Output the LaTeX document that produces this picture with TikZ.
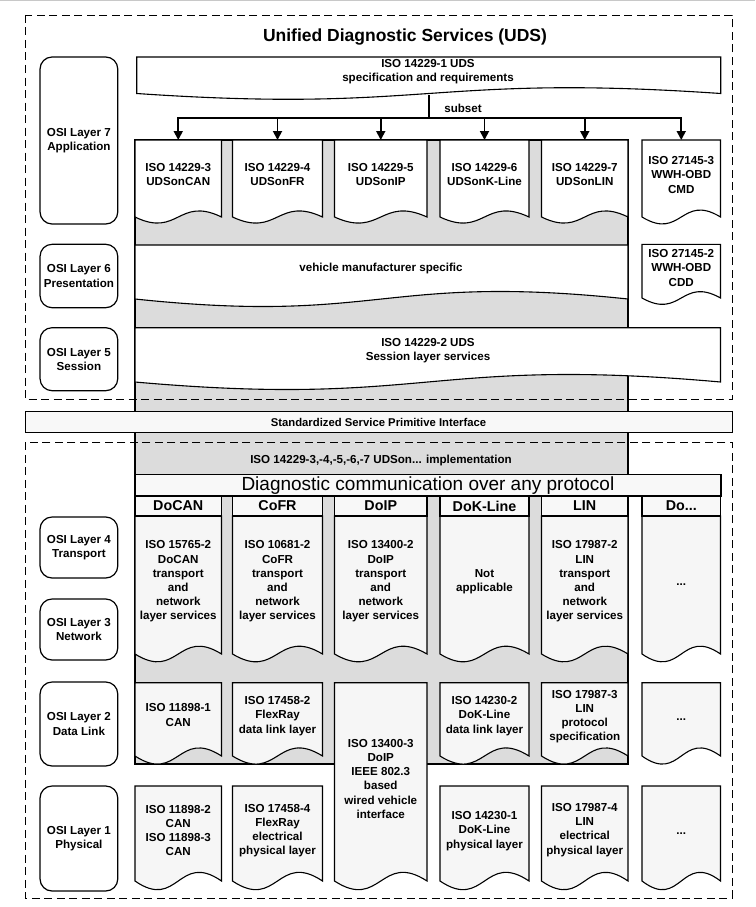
\documentclass[tikz,border=0pt]{standalone}
\usepackage{fontspec}
\setmainfont{Liberation Sans}
\usetikzlibrary{arrows.meta}
\definecolor{bggray}{RGB}{220,220,220}
\definecolor{lightbox}{RGB}{246,246,246}
\definecolor{barfill}{RGB}{248,248,248}
\definecolor{edgegray}{RGB}{200,200,200}
% document shape: x0, ytop, x1, ybottom, wave control offset, style
\newcommand\docshape[6]{\draw[#6] (#1,#2) -- (#3,#2) -- (#3,#4) .. controls ({(#1+#3)/2},{#4-#5}) and ({(#1+#3)/2},{#4+#5}) .. (#1,#4) -- cycle;}
\begin{document}
\begin{tikzpicture}[x=1pt,y=-1pt,
  every node/.style={font=\fontsize{11.6}{14.2}\selectfont\bfseries, align=center, inner sep=0pt},
  osi/.style={draw, line width=1.2pt, rounded corners=12pt, fill=white},
  docw/.style={draw, line width=1.1pt, fill=white},
  docl/.style={draw, line width=1.1pt, fill=lightbox},
  grayarea/.style={draw, line width=2pt, fill=bggray},
  dashbox/.style={line width=0.9pt, dash pattern=on 8pt off 4.5pt},
  hdr/.style={draw, line width=1.5pt, fill=barfill, minimum height=20pt, font=\fontsize{14.3}{16}\selectfont\bfseries},
  arr/.style={line width=1.8pt, -{Triangle[length=9pt,width=9pt]}}
]
\useasboundingbox (0,0) rectangle (755,907);
\draw[edgegray, line width=1.4pt] (0,0.7) -- (755,0.7);

% gray backdrop
\draw[grayarea] (135,140) rectangle (628,764);

% dashed frames
\draw[dashbox] (25,15) rectangle (732,399);
\draw[dashbox] (25,442.3) rectangle (732,898);

% title
\node[font=\fontsize{17.5}{20}\selectfont\bfseries] (title) at (405,37) {Unified Diagnostic Services (UDS)};

% OSI layer labels
\node[osi, minimum width=77.7pt, minimum height=167pt] (o7) at (78.9,140.5) {OSI Layer 7\\Application};
\node[osi, minimum width=77.7pt, minimum height=63.4pt] (o6) at (78.9,276) {OSI Layer 6\\Presentation};
\node[osi, minimum width=77.7pt, minimum height=63pt] (o5) at (78.9,359.2) {OSI Layer 5\\Session};
\node[osi, minimum width=77.7pt, minimum height=61pt] (o4) at (78.9,547.5) {OSI Layer 4\\Transport};
\node[osi, minimum width=77.7pt, minimum height=61pt] (o3) at (78.9,629.5) {OSI Layer 3\\Network};
\node[osi, minimum width=77.7pt, minimum height=84pt] (o2) at (78.9,724) {OSI Layer 2\\Data Link};
\node[osi, minimum width=77.7pt, minimum height=105pt] (o1) at (78.9,838.5) {OSI Layer 1\\Physical};

% layer 7 boxes
\docshape{135}{140}{221.5}{217}{21}{docw}
\docshape{232.5}{140}{322.5}{217}{21}{docw}
\docshape{334.5}{140}{427}{217}{21}{docw}
\docshape{440}{140}{529}{217}{21}{docw}
\docshape{541.5}{140}{628}{217}{21}{docw}
\docshape{642}{140}{720.5}{217}{24}{docw}
\node (u3) at (178.25,174.5) {ISO 14229-3\\UDSonCAN};
\node (u4) at (277.5,174.5) {ISO 14229-4\\UDSonFR};
\node (u5) at (380.75,174.5) {ISO 14229-5\\UDSonIP};
\node (u6) at (484.5,174.5) {ISO 14229-6\\UDSonK-Line};
\node (u7) at (584.75,174.5) {ISO 14229-7\\UDSonLIN};
\node (wcmd) at (681.25,175) {ISO 27145-3\\WWH-OBD\\CMD};

% layer 6
\docshape{135}{245}{628}{299}{26}{docw}
\node (vms) at (381,268) {vehicle manufacturer specific};
\docshape{642}{244.3}{720.5}{298}{22}{docw}
\node (wcdd) at (681.25,268) {ISO 27145-2\\WWH-OBD\\CDD};

% layer 5
\docshape{135}{327.7}{720.5}{382}{26}{docw}
\node (sess) at (428,351) {ISO 14229-2 UDS\\Session layer services};

% ISO 14229-1 banner
\docshape{136.7}{57}{720.7}{93.5}{20}{docw}
\node (spec) at (428,72) {ISO 14229-1 UDS\\specification and requirements};

% subset arrows
\coordinate (src) at (429,95);
\coordinate (bus) at (429,118);
\coordinate (bl) at (178.25,118);
\coordinate (br) at (681.25,118);
\coordinate (a3) at (178.25,140);
\coordinate (a4) at (277.5,140);
\coordinate (a5) at (380.75,140);
\coordinate (a6) at (484.5,140);
\coordinate (a7) at (584.75,140);
\coordinate (a8) at (681.25,140);
\draw[line width=1.8pt] (src) -- (bus);
\draw[line width=1.8pt, line cap=rect] (bl) -- (br);
\draw[arr] (bl) -- (a3);
\draw[arr] (a4 |- bus) -- (a4);
\draw[arr] (a5 |- bus) -- (a5);
\draw[arr] (a6 |- bus) -- (a6);
\draw[arr] (a7 |- bus) -- (a7);
\draw[arr] (br) -- (a8);
\node (subset) at (463,108) {subset};

% Standardized Service Primitive Interface
\node[draw, line width=1pt, fill=barfill, minimum width=707pt, minimum height=20.5pt, font=\fontsize{11.3}{13}\selectfont\bfseries] (ssp) at (378.5,422) {Standardized Service Primitive Interface};

% implementation
\node (impl) at (381,460) {ISO 14229-3,-4,-5,-6,-7 UDSon... implementation};

% layer 3/4 boxes
\docshape{135}{516}{221.5}{654}{27}{docl}
\docshape{232.5}{516}{322.5}{654}{27}{docl}
\docshape{334.5}{516}{427}{654}{27}{docl}
\docshape{440}{516}{529}{654}{27}{docl}
\docshape{541.5}{516}{628}{654}{27}{docl}
\docshape{642}{516}{720.5}{654}{27}{docl}

% Diagnostic communication bar and headers
\node[draw, line width=1.5pt, fill=barfill, minimum width=585.7pt, minimum height=21.7pt, font=\fontsize{19}{21}\selectfont] (dcap) at (427.9,485.2) {Diagnostic communication over any protocol};
\node[hdr, minimum width=86.5pt] (h1) at (178.25,506) {DoCAN};
\node[hdr, minimum width=90pt] (h2) at (277.5,506) {CoFR};
\node[hdr, minimum width=92.5pt] (h3) at (380.75,506) {DoIP};
\node[hdr, minimum width=89pt] (h4) at (484.5,506) {DoK-Line};
\node[hdr, minimum width=86.5pt] (h5) at (584.75,506) {LIN};
\node[hdr, minimum width=78.5pt] (h6) at (681.25,506) {Do...};

\node (t41) at (178.25,581.5) {ISO 15765-2\\DoCAN\\transport\\and\\network\\layer services};
\node (t42) at (277.5,581.5) {ISO 10681-2\\CoFR\\transport\\and\\network\\layer services};
\node (t43) at (380.75,581.5) {ISO 13400-2\\DoIP\\transport\\and\\network\\layer services};
\node (t44) at (484.5,582) {Not\\applicable};
\node (t45) at (584.75,581.5) {ISO 17987-2\\LIN\\transport\\and\\network\\layer services};
\node (t46) at (681.25,585) {...};

% layer 2 boxes
\docshape{135}{682.7}{221.5}{756}{28}{docl}
\docshape{232.5}{682.7}{322.5}{756}{28}{docl}
\docshape{440}{682.7}{529}{756}{28}{docl}
\docshape{541.5}{682.7}{628}{756}{28}{docl}
\docshape{642}{682.7}{720.5}{756}{28}{docl}
\node (t21) at (178.25,715) {ISO 11898-1\\CAN};
\node (t22) at (277.5,716) {ISO 17458-2\\FlexRay\\data link layer};
\node (t24) at (484.5,716) {ISO 14230-2\\DoK-Line\\data link layer};
\node (t25) at (584.75,716.5) {ISO 17987-3\\LIN\\protocol\\specification};
\node (t26) at (681.25,720) {...};

% DoIP tall box
\docshape{334.5}{682.7}{427}{881}{30}{docl}
\node (t23) at (380.75,778.7) {ISO 13400-3\\DoIP\\IEEE 802.3\\based\\wired vehicle\\interface};

% layer 1 boxes
\docshape{135}{786}{221.5}{881}{30}{docl}
\docshape{232.5}{786}{322.5}{881}{30}{docl}
\docshape{440}{786}{529}{881}{30}{docl}
\docshape{541.5}{786}{628}{881}{30}{docl}
\docshape{642}{786}{720.5}{881}{30}{docl}
\node (t11) at (178.25,830.5) {ISO 11898-2\\CAN\\ISO 11898-3\\CAN};
\node (t12) at (277.5,830.5) {ISO 17458-4\\FlexRay\\electrical\\physical layer};
\node (t14) at (484.5,831) {ISO 14230-1\\DoK-Line\\physical layer};
\node (t15) at (584.75,830) {ISO 17987-4\\LIN\\electrical\\physical layer};
\node (t16) at (681.25,834) {...};
\end{tikzpicture}
\end{document}
